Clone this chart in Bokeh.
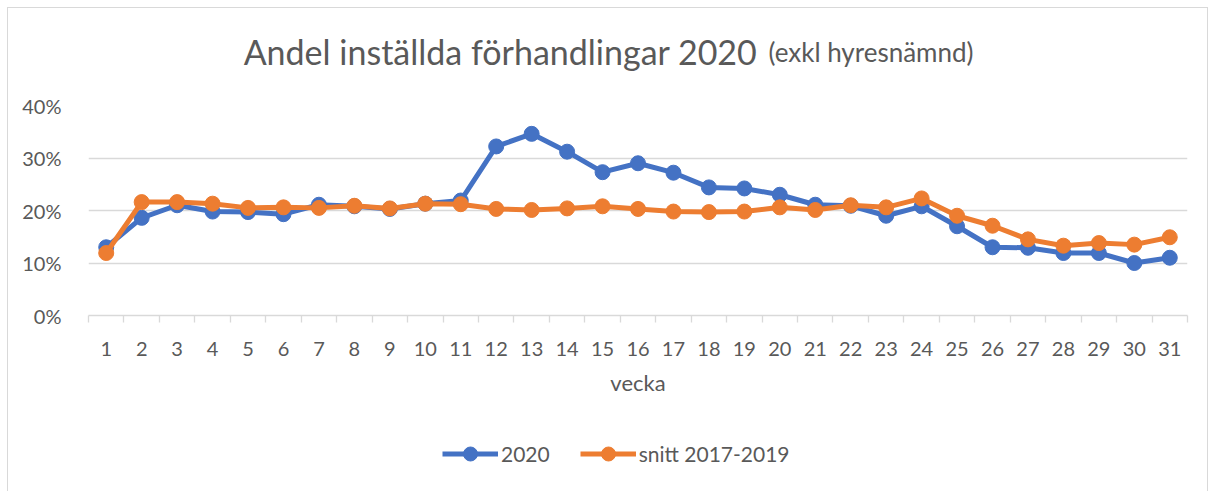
from bokeh.plotting import figure
from bokeh.layouts import column
from bokeh.models import (Range1d, FixedTicker, NumeralTickFormatter, Label, Legend,
                          LegendItem, CustomJSTickFormatter)
from bokeh.embed import file_html
from bokeh.resources import INLINE

weeks = list(range(1, 32))
week_labels = [str(w) for w in weeks]
y2020 = [0.130, 0.186, 0.210, 0.198, 0.197, 0.193, 0.211, 0.208, 0.203, 0.213, 0.219,
         0.322, 0.346, 0.312, 0.273, 0.290, 0.272, 0.244, 0.242, 0.230, 0.211,
         0.209, 0.190, 0.208, 0.170, 0.130, 0.129, 0.119, 0.119, 0.100, 0.110]
avg1719 = [0.119, 0.216, 0.216, 0.213, 0.205, 0.206, 0.205, 0.209, 0.204, 0.213, 0.212,
           0.203, 0.201, 0.204, 0.208, 0.203, 0.198, 0.197, 0.198, 0.206, 0.201,
           0.210, 0.206, 0.223, 0.190, 0.171, 0.145, 0.133, 0.138, 0.135, 0.149]
y_ticks = [0, 0.1, 0.2, 0.3, 0.4]
title_main = "Andel inställda förhandlingar 2020"
title_sub = "(exkl hyresnämnd)"
x_title = "vecka"
series_names = ["2020", "snitt 2017-2019"]

BLUE = "#4472C4"
ORANGE = "#ED7D31"
TXT = "#595959"
GRID = "#D9D9D9"
FONT = "Lato"
W = 1199
ML, MR = 80, 20
FRAME_W = W - ML - MR


def strip(height, yr):
    f = figure(width=W, height=height, output_backend="svg", toolbar_location=None,
               x_axis_type=None, y_axis_type=None, x_range=Range1d(0, FRAME_W),
               y_range=yr, min_border_left=ML, min_border_right=MR,
               min_border_top=0, min_border_bottom=0)
    f.grid.visible = False
    f.outline_line_color = None
    f.border_fill_color = "white"
    f.background_fill_color = "white"
    return f


# title strip
TH = 77
tp = strip(TH, Range1d(0, TH))
tp.add_layout(Label(x=669, y=TH - 43, text=title_main, text_align="right",
                    text_baseline="alphabetic", text_font=FONT, text_font_size="34px",
                    text_color=TXT))
tp.add_layout(Label(x=680, y=TH - 43, text=title_sub, text_align="left",
                    text_baseline="alphabetic", text_font=FONT, text_font_size="26px",
                    text_color=TXT))

# main chart
p = figure(width=W, height=333, output_backend="svg", toolbar_location=None,
           x_range=Range1d(0.5, 31.5), y_range=Range1d(0, 0.4),
           min_border_left=ML, min_border_right=MR, min_border_top=20, min_border_bottom=103)
p.outline_line_color = None
p.background_fill_color = "white"
p.border_fill_color = "white"

p.yaxis.ticker = FixedTicker(ticks=y_ticks)
p.yaxis.formatter = NumeralTickFormatter(format="0%")
p.yaxis.axis_line_color = None
p.yaxis.major_tick_line_color = None
p.yaxis.minor_tick_line_color = None
p.yaxis.major_label_text_font = FONT
p.yaxis.major_label_text_font_size = "20px"
p.yaxis.major_label_text_color = TXT
p.yaxis.major_label_standoff = 21
p.ygrid.grid_line_color = GRID
p.ygrid.grid_line_width = 1.3
p.xgrid.grid_line_color = None

p.xaxis.ticker = FixedTicker(ticks=weeks, minor_ticks=[w + 0.5 for w in [0] + weeks])
p.xaxis.formatter = CustomJSTickFormatter(args=dict(labels=week_labels),
                                          code="return labels[Math.round(tick)-1];")
p.xaxis.axis_line_color = GRID
p.xaxis.axis_line_width = 1.3
p.xaxis.major_tick_line_color = None
p.xaxis.major_tick_out = 0
p.xaxis.major_tick_in = 0
p.xaxis.minor_tick_line_color = GRID
p.xaxis.minor_tick_line_width = 1.3
p.xaxis.minor_tick_out = 7
p.xaxis.minor_tick_in = 0
p.xaxis.major_label_text_font = FONT
p.xaxis.major_label_text_font_size = "20px"
p.xaxis.major_label_text_color = TXT
p.xaxis.major_label_standoff = 19
p.xaxis.axis_label = x_title
p.xaxis.axis_label_text_font = FONT
p.xaxis.axis_label_text_font_size = "22px"
p.xaxis.axis_label_text_font_style = "normal"
p.xaxis.axis_label_text_color = TXT
p.xaxis.axis_label_standoff = 10

p.line(weeks, y2020, line_color=BLUE, line_width=5)
p.scatter(weeks, y2020, size=15, fill_color=BLUE, line_color=BLUE)
p.line(weeks, avg1719, line_color=ORANGE, line_width=5)
p.scatter(weeks, avg1719, size=15, fill_color=ORANGE, line_color=ORANGE)

# legend strip (its series sit outside the strip's visible range; only the legend shows)
LH = 73
lg = strip(LH, Range1d(10, 11))
r1 = lg.line(weeks, y2020, line_color=BLUE, line_width=5)
s1 = lg.scatter(weeks, y2020, size=15, fill_color=BLUE, line_color=BLUE)
r2 = lg.line(weeks, avg1719, line_color=ORANGE, line_width=5)
s2 = lg.scatter(weeks, avg1719, size=15, fill_color=ORANGE, line_color=ORANGE)
legend = Legend(items=[LegendItem(label=series_names[0], renderers=[r1, s1]),
                       LegendItem(label=series_names[1], renderers=[r2, s2])],
                orientation="horizontal", location=(354, 20), padding=0, margin=0,
                label_text_font=FONT, label_text_font_size="21px", label_text_color=TXT,
                glyph_width=56, glyph_height=35, spacing=30, label_standoff=3,
                border_line_color=None, background_fill_alpha=0)
lg.add_layout(legend, "center")

layout = column(tp, p, lg, spacing=0)
layout.styles = {"border": "1px solid #D9D9D9", "margin-left": "7px", "margin-top": "7px"}

open("out.html", "w").write(file_html(layout, INLINE))
